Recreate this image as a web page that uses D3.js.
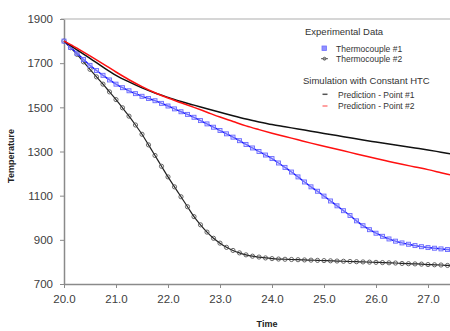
<!DOCTYPE html>
<html><head><meta charset="utf-8">
<script src="https://cdn.jsdelivr.net/npm/d3@7"></script>
<style>body{margin:0;background:#fff;}svg{display:block;font-family:Arial,"Liberation Sans",sans-serif;}</style>
</head><body>
<svg id="c" width="450" height="331"></svg>
<script>
// ---- data ----
const expTime = [20.000,20.125,20.250,20.375,20.500,20.625,20.750,20.875,21.000,21.125,21.250,21.375,21.500,21.625,21.750,21.875,22.000,22.125,22.250,22.375,22.500,22.625,22.750,22.875,23.000,23.125,23.250,23.375,23.500,23.625,23.750,23.875,24.000,24.125,24.250,24.375,24.500,24.625,24.750,24.875,25.000,25.125,25.250,25.375,25.500,25.625,25.750,25.875,26.000,26.125,26.250,26.375,26.500,26.625,26.750,26.875,27.000,27.125,27.250,27.375,27.500];
const thermocouple1 = [1800,1772,1745,1717,1690,1667,1645,1624,1605,1589,1575,1562,1550,1540,1530,1518,1506,1493,1480,1468,1455,1440,1425,1410,1395,1380,1365,1349,1332,1316,1300,1284,1268,1248,1228,1207,1185,1162,1140,1120,1098,1076,1054,1032,1010,986,964,946,930,916,904,894,886,880,874,869,865,862,859,856,853];
const thermocouple2 = [1800,1770,1740,1706,1672,1638,1605,1570,1535,1498,1460,1420,1378,1330,1282,1233,1185,1140,1095,1050,1005,968,935,907,885,866,852,841,832,826,822,818,815,813,812,811,810,809,808,807,806,805,804,803,802,801,800,799,798,797,796,795,793,792,791,790,788,787,786,784,782];
const simTime = [20.0,20.25,20.5,20.75,21.0,21.25,21.5,21.75,22.0,22.25,22.5,22.75,23.0,23.25,23.5,23.75,24.0,24.25,24.5,24.75,25.0,25.25,25.5,25.75,26.0,26.25,26.5,26.75,27.0,27.25,27.5];
const prediction1 = [1800,1760,1722,1682,1645,1615,1588,1565,1545,1526,1510,1494,1478,1462,1447,1434,1422,1412,1402,1392,1382,1372,1362,1352,1343,1334,1325,1316,1307,1297,1287];
const prediction2 = [1800,1768,1733,1697,1660,1625,1594,1566,1542,1521,1500,1478,1456,1436,1416,1399,1383,1368,1353,1338,1324,1310,1296,1282,1268,1255,1242,1230,1218,1204,1190];
const xTicks = [20,21,22,23,24,25,26,27];
const yTicks = [700,900,1100,1300,1500,1700,1900];

// ---- chart ----
const svg = d3.select("#c");
const x = d3.scaleLinear().domain([20,28]).range([64,480]);
const y = d3.scaleLinear().domain([700,1900]).range([284,19]);

svg.append("line").attr("x1",61).attr("x2",450).attr("y1",19).attr("y2",19)
  .attr("stroke","#c8c8c8").attr("stroke-width",1.5);

const xAxis = svg.append("g").attr("transform","translate(0,284)")
  .call(d3.axisBottom(x).tickValues(xTicks).tickFormat(d3.format(".1f")).tickSize(4).tickSizeOuter(0).tickPadding(7));
const yAxis = svg.append("g").attr("transform","translate(64,0)")
  .call(d3.axisLeft(y).tickValues(yTicks).tickFormat(d3.format("d")).tickSize(4).tickSizeOuter(0).tickPadding(7));
[xAxis,yAxis].forEach(a=>{
  a.select(".domain").attr("stroke","#8a8a8a").attr("stroke-width",1.5);
  a.selectAll(".tick line").attr("stroke","#8a8a8a");
  a.selectAll("text").attr("fill","#404040").style("font-size","11.5px").style("font-family","Arial,'Liberation Sans',sans-serif");
});

svg.append("text").attr("x",267).attr("y",327).attr("text-anchor","middle")
  .style("font-size","9px").style("font-weight","bold").attr("fill","#222").text("Time");
svg.append("text").attr("transform","translate(14,156) rotate(-90)").attr("text-anchor","middle")
  .style("font-size","9px").style("font-weight","bold").attr("fill","#222").text("Temperature");

const line = d3.line().x(d=>x(d[0])).y(d=>y(d[1])).curve(d3.curveMonotoneX);
const plot = svg.append("g");

const p1 = simTime.map((t,i)=>[t,prediction1[i]]);
const p2 = simTime.map((t,i)=>[t,prediction2[i]]);
const tc1 = expTime.map((t,i)=>[t,thermocouple1[i]]);
const tc2 = expTime.map((t,i)=>[t,thermocouple2[i]]);

plot.append("path").datum(tc2).attr("d",line).attr("fill","none").attr("stroke","#222").attr("stroke-width",1.2);
plot.selectAll("circle.tc2").data(tc2).join("circle").attr("class","tc2")
  .attr("cx",d=>x(d[0])).attr("cy",d=>y(d[1])).attr("r",2.1)
  .attr("fill","none").attr("stroke","#444").attr("stroke-width",0.8);

plot.append("path").datum(tc1).attr("d",line).attr("fill","none").attr("stroke","#1010ff").attr("stroke-width",1.4);
plot.selectAll("rect.tc1").data(tc1).join("rect").attr("class","tc1")
  .attr("x",d=>x(d[0])-2).attr("y",d=>y(d[1])-2).attr("width",4).attr("height",4)
  .attr("fill","#c8c8ff").attr("fill-opacity",0.5).attr("stroke","#6a6aff").attr("stroke-width",0.9);

plot.append("path").datum(p1).attr("d",line).attr("fill","none").attr("stroke","#111").attr("stroke-width",1.5);
plot.append("path").datum(p2).attr("d",line).attr("fill","none").attr("stroke","#ff1010").attr("stroke-width",1.5);

// ---- legend ----
const lg = svg.append("g").style("font-family","Arial,'Liberation Sans',sans-serif").attr("fill","#333");
lg.append("text").attr("x",305).attr("y",35).style("font-size","9.5px").text("Experimental Data");
lg.append("rect").attr("x",322).attr("y",46).attr("width",4.5).attr("height",4.5).attr("fill","#9090ff").attr("stroke","#7070ff").attr("stroke-width",0.8);
lg.append("text").attr("x",336).attr("y",51.5).style("font-size","8.5px").text("Thermocouple #1");
lg.append("line").attr("x1",321).attr("x2",328).attr("y1",58.7).attr("y2",58.7).attr("stroke","#333").attr("stroke-width",0.8);
lg.append("circle").attr("cx",324.5).attr("cy",58.7).attr("r",1.5).attr("fill","#999").attr("stroke","#333").attr("stroke-width",0.6);
lg.append("text").attr("x",336).attr("y",61.8).style("font-size","8.5px").text("Thermocouple #2");
lg.append("text").attr("x",303).attr("y",83.5).style("font-size","9.5px").text("Simulation with Constant HTC");
lg.append("line").attr("x1",322.5).attr("x2",327.5).attr("y1",94.3).attr("y2",94.3).attr("stroke","#555").attr("stroke-width",1.5);
lg.append("text").attr("x",338).attr("y",97.5).style("font-size","8.5px").text("Prediction - Point #1");
lg.append("line").attr("x1",322.5).attr("x2",327.5).attr("y1",106).attr("y2",106).attr("stroke","#ff8080").attr("stroke-width",1.5);
lg.append("text").attr("x",338).attr("y",109.2).style("font-size","8.5px").text("Prediction - Point #2");
</script>
</body></html>
